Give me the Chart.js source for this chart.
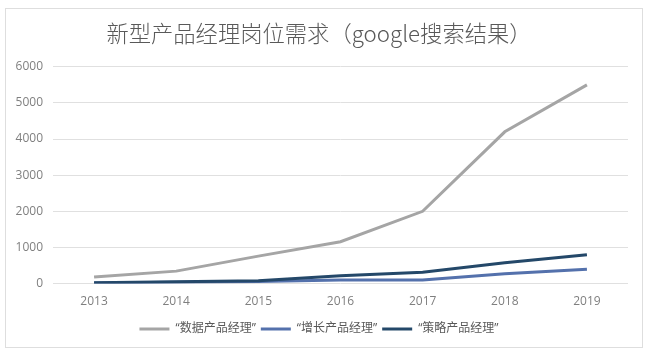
<!DOCTYPE html>
<html><head><meta charset="utf-8">
<script src="https://cdn.jsdelivr.net/npm/chart.js@4/dist/chart.umd.min.js"></script>
<style>
html,body{margin:0;padding:0;background:#fff;}
#card{position:absolute;left:5px;top:8px;width:636px;height:338px;border:1px solid #dedede;background:#fff;}
#c{display:block;}
</style></head>
<body>
<div id="card"><canvas id="c" width="636" height="338"></canvas></div>
<script>
const titleText = '新型产品经理岗位需求（google搜索结果）';
const years = ['2013','2014','2015','2016','2017','2018','2019'];
const seriesNames = ['“数据产品经理”','“增长产品经理”','“策略产品经理”'];
const dataPM = [180, 345, 760, 1160, 2000, 4200, 5500];
const growthPM = [20, 40, 60, 100, 100, 270, 400];
const strategyPM = [25, 50, 80, 220, 315, 575, 800];
const seriesColors = ['#a5a5a5', '#5471ac', '#244869'];

const FONT = '"Open Sans", "Noto Sans CJK SC", sans-serif';
const vals = [dataPM, growthPM, strategyPM];
const datasets = vals.map((v, i) => ({
  label: seriesNames[i],
  data: v,
  borderColor: seriesColors[i],
  backgroundColor: seriesColors[i],
  borderWidth: 3,
  pointRadius: 0,
  tension: 0,
  fill: false,
  order: [2, 3, 1][i]
}));

new Chart(document.getElementById('c'), {
  type: 'line',
  data: { labels: years, datasets },
  options: {
    responsive: false,
    animation: false,
    layout: { padding: { left: 4, right: 14, top: 0, bottom: 2 } },
    plugins: {
      tooltip: { enabled: false },
      title: {
        display: true, text: titleText, color: '#595959',
        font: { family: '"Noto Sans CJK SC", sans-serif', size: 22.3, weight: 300 },
        padding: { top: 11, bottom: 20 }
      },
      legend: {
        position: 'bottom',
        labels: {
          color: '#595959',
          font: { family: FONT, size: 12 },
          boxWidth: 30, boxHeight: 3, padding: 5,
          generateLabels: (chart) => chart.data.datasets.map((d, i) => ({
            text: d.label, fillStyle: d.borderColor, strokeStyle: d.borderColor,
            lineWidth: 0, hidden: false, datasetIndex: i, fontColor: '#595959'
          }))
        }
      }
    },
    scales: {
      x: {
        offset: true,
        afterFit: (s) => { s.height += 6; },
        grid: { display: false },
        border: { display: false },
        ticks: { color: '#7f7f7f', font: { family: FONT, size: 12 }, padding: 3, maxRotation: 0 }
      },
      y: {
        min: 0, max: 6000,
        afterFit: (s) => { s.width = 43; },
        grid: { color: '#e0e0e0', lineWidth: 1, drawTicks: false },
        border: { display: false },
        ticks: { stepSize: 1000, color: '#7f7f7f', font: { family: FONT, size: 12 }, padding: 10,
                 callback: (v) => String(v) }
      }
    }
  }
});
</script>
</body></html>
